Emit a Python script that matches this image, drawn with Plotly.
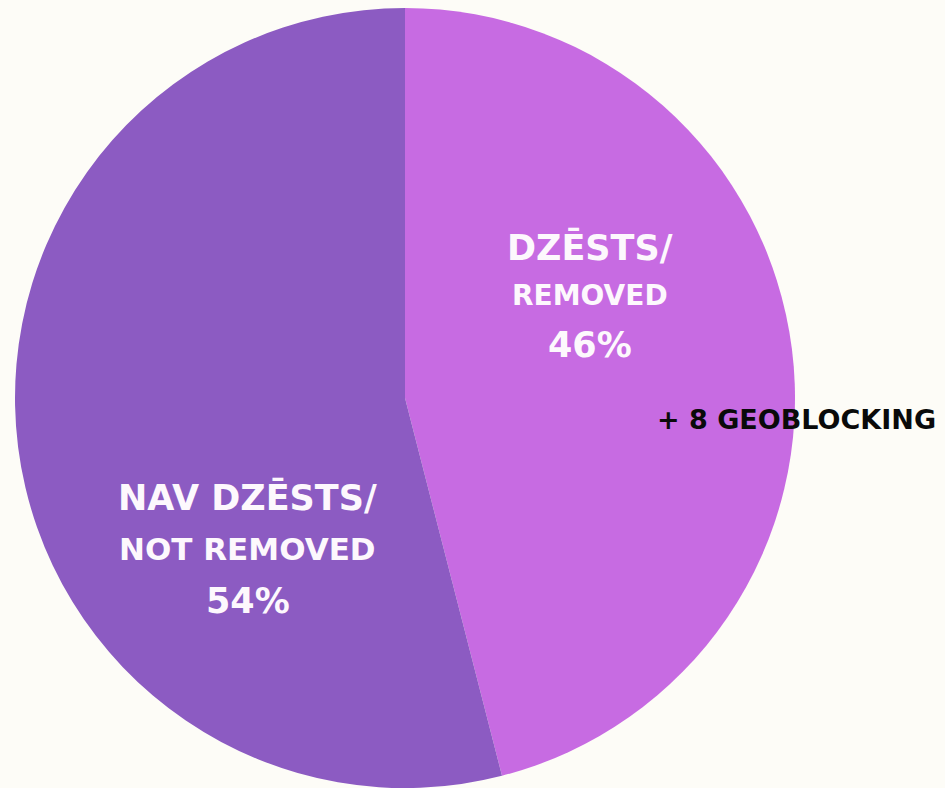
import plotly.graph_objects as go

W, H = 945, 788

labels = ["DZĒSTS/ REMOVED", "NAV DZĒSTS/ NOT REMOVED"]
values = [46, 54]
colors = ["#C76BE2", "#8C5BC2"]

label_lines = [
    # (text, x_px, y_px, size)
    ("DZĒSTS/", 590, 247.5, 35),
    ("REMOVED", 590, 295, 28),
    (f"{values[0]}%", 590, 345, 35),
    ("NAV DZĒSTS/", 247.5, 497.5, 35),
    ("NOT REMOVED", 247.5, 548.5, 31),
    (f"{values[1]}%", 247.5, 600.5, 35),
]
extra_note = "+ 8 GEOBLOCKING"

fig = go.Figure(go.Pie(
    labels=labels,
    values=values,
    sort=False,
    direction="clockwise",
    rotation=0,
    marker=dict(colors=colors, line=dict(width=0)),
    textinfo="none",
    hoverinfo="label+percent",
    showlegend=False,
    domain=dict(x=[15 / W, 795 / W], y=[0, 780 / H]),
))

annotations = []
for text, xp, yp, size in label_lines:
    annotations.append(dict(
        text=text, x=xp / W, y=1 - yp / H, xref="paper", yref="paper",
        xanchor="center", yanchor="middle", showarrow=False,
        font=dict(family="DejaVu Sans", size=size, color="#FDF8FD", weight="bold"),
    ))
annotations.append(dict(
    text=extra_note, x=796.5 / W, y=1 - 419.5 / H, xref="paper", yref="paper",
    xanchor="center", yanchor="middle", showarrow=False,
    font=dict(family="DejaVu Sans", size=27, color="#0A0A0A", weight="bold"),
))

fig.update_layout(
    width=W, height=H,
    margin=dict(l=0, r=0, t=0, b=0),
    paper_bgcolor="#FDFCF7",
    plot_bgcolor="#FDFCF7",
    annotations=annotations,
)

fig.write_html(
    "out.html",
    config={"displayModeBar": False},
    post_script="document.body.style.margin='0';document.body.style.background='#FDFCF7';",
)
